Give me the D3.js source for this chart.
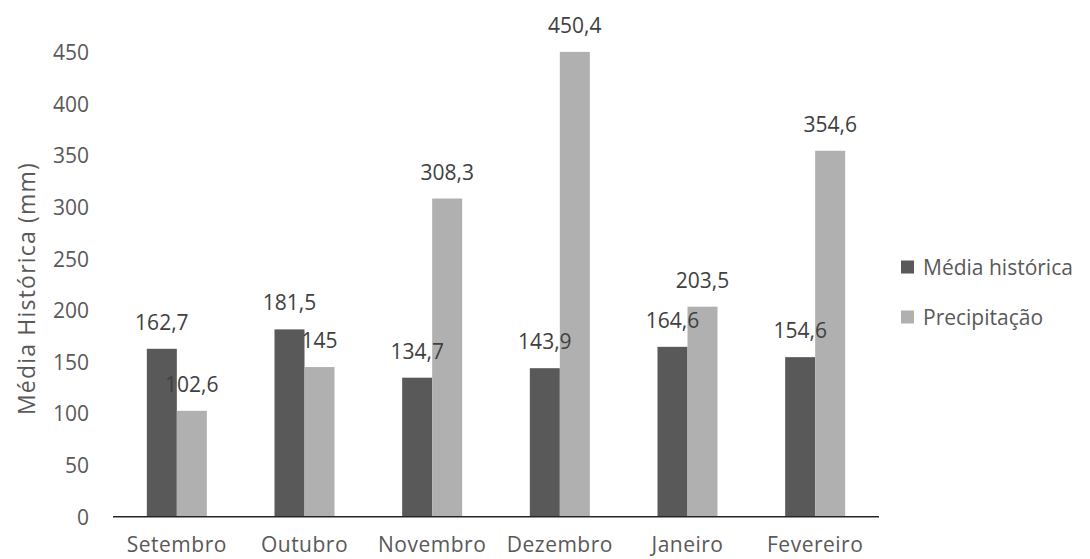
<!DOCTYPE html>
<html>
<head>
<meta charset="utf-8">
<script src="https://cdn.jsdelivr.net/npm/d3@7"></script>
<style>
  html, body { margin: 0; padding: 0; background: #fff; }
  svg { display: block; }
  text { font-family: "Open Sans", "Noto Sans", sans-serif; fill: #595959; }
</style>
</head>
<body>
<svg id="chart" width="1090" height="559"></svg>
<script>
const categories = ["Setembro", "Outubro", "Novembro", "Dezembro", "Janeiro", "Fevereiro"];
const seriesNames = ["Média histórica", "Precipitação"];
const mediaHistorica = [162.7, 181.5, 134.7, 143.9, 164.6, 154.6];
const precipitacao = [102.6, 145, 308.3, 450.4, 203.5, 354.6];
const yTicks = [0, 50, 100, 150, 200, 250, 300, 350, 400, 450];
const colors = ["#595959", "#b0b0b0"];
const yTitle = "Média Histórica (mm)";

const svg = d3.select("#chart");
const fontSize = 21;

const x0 = d3.scaleBand().domain(categories).range([113, 879]).paddingInner(0.53).paddingOuter(0.265);
const x1 = d3.scaleBand().domain(seriesNames).range([0, x0.bandwidth()]).padding(0);
const y = d3.scaleLinear().domain([0, 450]).range([516.7, 52.3]);

const seriesData = [mediaHistorica, precipitacao];
const rows = categories.map((c, i) => ({
  cat: c,
  vals: seriesNames.map((s, j) => ({ name: s, value: seriesData[j][i], color: colors[j] }))
}));

// Bars
const groups = svg.append("g").selectAll("g").data(rows).join("g")
  .attr("transform", d => `translate(${x0(d.cat)},0)`);
groups.selectAll("rect").data(d => d.vals).join("rect")
  .attr("x", d => x1(d.name))
  .attr("width", x1.bandwidth())
  .attr("y", d => y(d.value))
  .attr("height", d => y(0) - y(d.value))
  .attr("fill", d => d.color);

// Data labels
const fmt = v => String(v).replace(".", ",");
groups.selectAll("text.lbl").data(d => d.vals).join("text")
  .attr("class", "lbl")
  .attr("x", d => x1(d.name) + x1.bandwidth() / 2)
  .attr("y", d => y(d.value) - 27)
  .attr("text-anchor", "middle")
  .attr("dominant-baseline", "central")
  .style("font-size", fontSize + "px")
  .style("fill", "#404040")
  .text(d => fmt(d.value));

// X axis
const xAxis = svg.append("g").attr("transform", `translate(0,${y(0)})`)
  .call(d3.axisBottom(x0).tickSize(0).tickPadding(0));
xAxis.select(".domain").attr("stroke", "#262626").attr("stroke-width", 1.5)
  .attr("d", `M113,0H879`);
xAxis.selectAll("text").attr("y", 35).attr("dy", 0)
  .style("font-size", fontSize + "px").style("fill", "#595959")
  .style("letter-spacing", "0.5px").style("font-family", '"Open Sans", sans-serif');

// Y axis
const yAxis = svg.append("g").attr("transform", `translate(89,0)`)
  .call(d3.axisLeft(y).tickValues(yTicks).tickSize(0).tickPadding(0));
yAxis.select(".domain").remove();
yAxis.selectAll("text").attr("x", 0).attr("dy", "0.35em")
  .style("font-size", fontSize + "px").style("fill", "#595959").style("font-family", '"Open Sans", sans-serif');

// Y title
svg.append("text")
  .attr("transform", `translate(26,${(y(0) + y(450)) / 2 + 4}) rotate(-90)`)
  .attr("text-anchor", "middle")
  .attr("dominant-baseline", "central")
  .style("font-size", "23px")
  .style("letter-spacing", "1.2px")
  .text(yTitle);

// Legend
const leg = svg.append("g").selectAll("g").data(seriesNames).join("g")
  .attr("transform", (d, i) => `translate(901,${267 + i * 50})`);
leg.append("rect").attr("x", 0).attr("y", -6.5).attr("width", 13).attr("height", 13)
  .attr("fill", (d, i) => colors[i]);
leg.append("text").attr("x", 22).attr("y", 0).attr("dominant-baseline", "central")
  .style("font-size", fontSize + "px").text(d => d);
</script>
</body>
</html>
